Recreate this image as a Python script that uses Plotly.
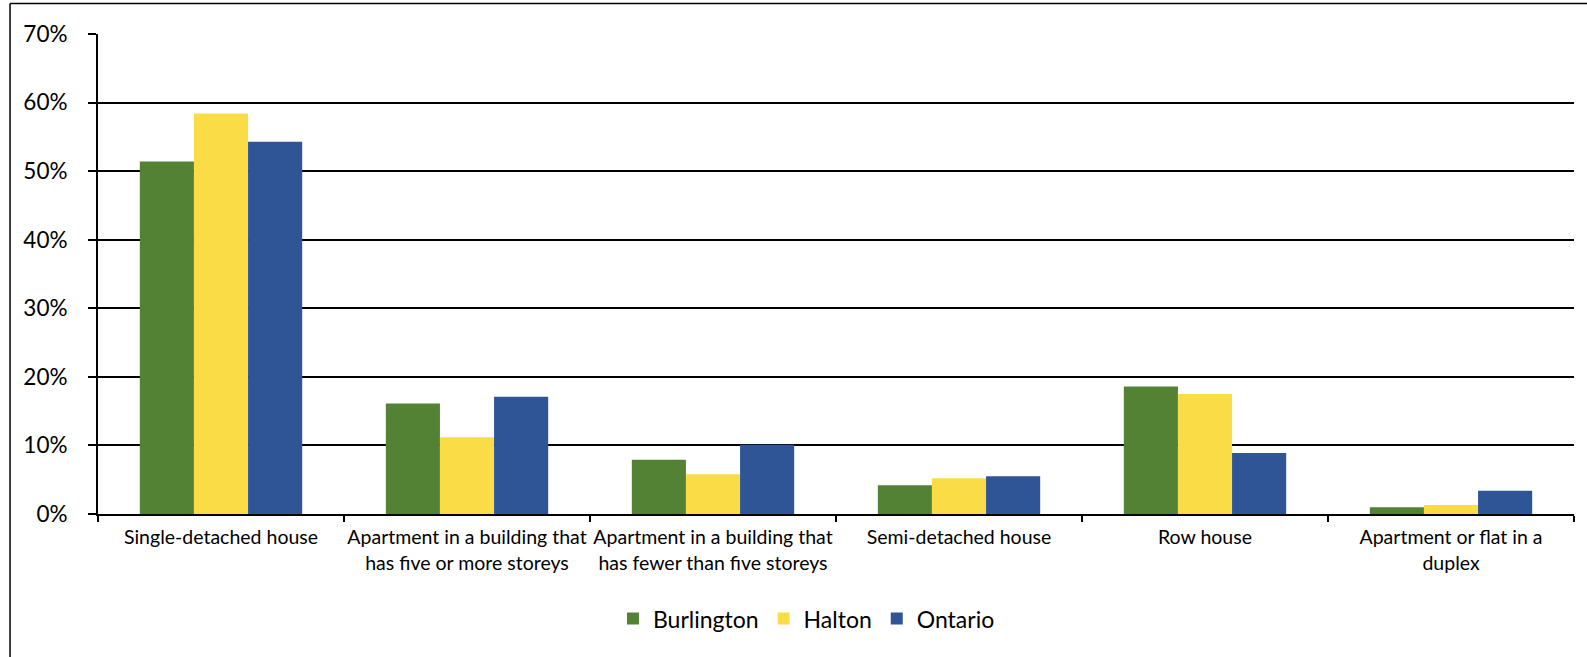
import plotly.graph_objects as go

# Share of occupied private dwellings by structural type
categories = [
    "Single-detached house",
    "Apartment in a building that<br>has five or more storeys",
    "Apartment in a building that<br>has fewer than five storeys",
    "Semi-detached house",
    "Row house",
    "Apartment or flat in a<br>duplex",
]
burlington = [0.514, 0.161, 0.079, 0.042, 0.186, 0.010]
halton = [0.584, 0.112, 0.058, 0.052, 0.175, 0.013]
ontario = [0.543, 0.171, 0.101, 0.055, 0.089, 0.034]

series = [
    ("Burlington", burlington, "#548235"),
    ("Halton", halton, "#FADC46"),
    ("Ontario", ontario, "#2F5597"),
]

FONT = "Lato"

fig = go.Figure()
for name, vals, color in series:
    fig.add_trace(go.Bar(
        x=categories, y=vals, name=name,
        marker=dict(color=color, line=dict(width=0)),
    ))

fig.update_layout(
    width=1587, height=657,
    margin=dict(l=98, r=13, t=34, b=143),
    paper_bgcolor="white", plot_bgcolor="white",
    barmode="group", bargap=0.34, bargroupgap=0,
    font=dict(family=FONT, color="black"),
    legend=dict(
        orientation="h", x=0.480, xanchor="center", y=-0.218, yanchor="middle",
        font=dict(size=23, family=FONT), itemwidth=30, traceorder="normal",
    ),
    showlegend=True,
)
fig.update_xaxes(
    type="category", tickson="boundaries", ticks="outside", ticklen=6,
    tickwidth=2, tickcolor="black", showline=True, linecolor="black",
    linewidth=2, showgrid=False, tickfont=dict(size=19.5, family=FONT),
    tickangle=0, ticklabelstandoff=5,
)
fig.update_yaxes(
    range=[0, 0.7], dtick=0.1, tickformat=".0%", ticks="outside",
    ticklen=8, tickwidth=2, tickcolor="black", showline=True,
    linecolor="black", linewidth=2, showgrid=True, gridcolor="black",
    gridwidth=2, tickfont=dict(size=22.5, family=FONT), zeroline=False,
    ticklabelstandoff=16,
)

# Outer chart frame (left and top edges)
frame = dict(type="line", xref="paper", yref="paper",
             line=dict(color="black", width=1.5))
fig.add_shape(**frame, x0=-0.0596, x1=1.02, y0=1.0634, y1=1.0634)
fig.add_shape(**frame, x0=-0.0596, x1=-0.0596, y0=1.0634, y1=-0.30)

fig.write_html("out.html")
